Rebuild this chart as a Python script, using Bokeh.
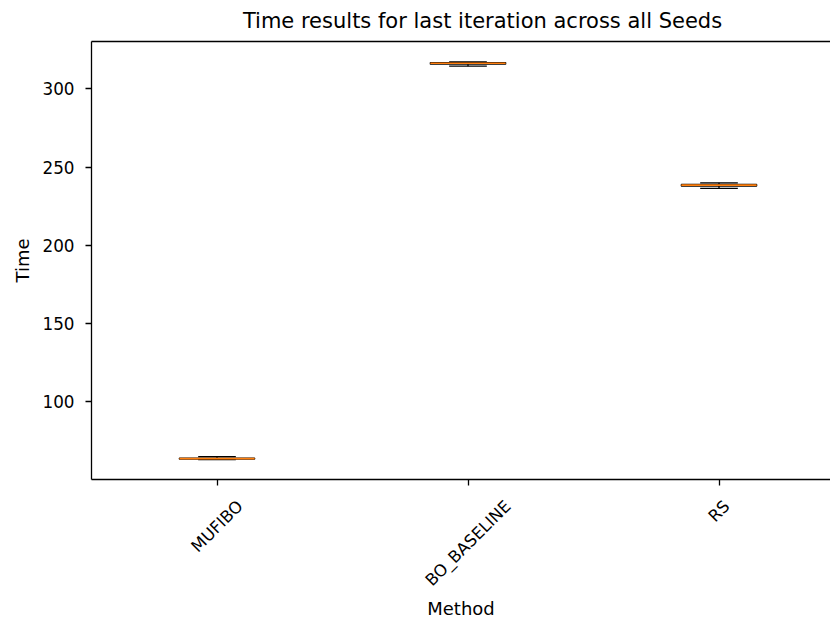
import math
from bokeh.plotting import figure
from bokeh.models import Range1d, FixedTicker, LinearAxis, Label, CustomJSTickFormatter
from bokeh.embed import file_html
from bokeh.resources import INLINE

# ---- data ----
methods = ["MUFIBO", "BO_BASELINE", "RS"]
whisker_low = [63.0, 314.5, 236.4]
q1 = [63.3, 315.8, 237.9]
median = [63.5, 316.4, 238.4]
q3 = [63.8, 316.8, 238.9]
whisker_high = [64.8, 317.2, 239.9]
y_ticks = [100, 150, 200, 250, 300]

title_text = "Time results for last iteration across all Seeds"
x_label = "Method"
y_label = "Time"

# ---- layout ----
FONT = "DejaVu Sans"
W, H = 830, 621
FR_L, FR_T, FR_R, FR_B = 91, 41, 830, 479   # frame edges in figure px
X0, X1 = 0.5, 0.5 + (FR_R - FR_L) / 251.0
Y0, Y1 = 50.2, 330.3
PXX = (FR_R - FR_L) / (X1 - X0)
PXY = (FR_B - FR_T) / (Y1 - Y0)

def px_to_x(px):  # figure px -> data x
    return X0 + (px - FR_L) / PXX

def py_to_y(py):  # figure px -> data y
    return Y0 + (FR_B - py) / PXY

pos = [i + 1 for i in range(len(methods))]
box_w = 0.3

p = figure(width=W, height=H, output_backend="svg", toolbar_location=None,
           x_range=Range1d(X0, X1), y_range=Range1d(Y0, Y1),
           min_border_left=FR_L, min_border_right=W - FR_R,
           min_border_top=FR_T, min_border_bottom=H - FR_B)
p.outline_line_color = None
p.xgrid.visible = False
p.ygrid.visible = False
p.background_fill_color = "white"
p.border_fill_color = "white"

# bottom spine + tick marks (labels are drawn by the label axis below)
xa = p.xaxis[0]
xa.ticker = FixedTicker(ticks=pos)
xa.formatter = CustomJSTickFormatter(code="return ''")
xa.major_label_text_font_size = "0px"
xa.major_label_standoff = 0
xa.major_tick_out = 6
xa.major_tick_in = 0
xa.minor_tick_line_color = None
xa.axis_line_color = "black"
xa.axis_line_width = 1.3
xa.major_tick_line_color = "black"
xa.major_tick_line_width = 1.3

# rotated category labels (matplotlib rotation=45, ha=center): the label axis
# anchors the right end of each text, so shift anchors by half the text length
ADV = {"M": .863, "U": .732, "F": .575, "I": .295, "B": .686, "O": .787, "_": .5,
       "A": .684, "S": .635, "E": .632, "L": .557, "N": .748, "R": .695}
fs = 16.5
label_ticks = []
overrides = {}
for x, m in zip(pos, methods):
    w = sum(ADV.get(c, 0.65) for c in m) * fs
    t = x + (w / 2) * math.cos(math.pi / 4) / PXX
    label_ticks.append(t)
    overrides[t] = m

lab_axis = LinearAxis(ticker=FixedTicker(ticks=label_ticks),
                      major_label_overrides=overrides,
                      major_label_orientation=math.pi / 4,
                      major_label_text_font=FONT, major_label_text_font_size="16.5px",
                      major_label_text_color="black", major_label_standoff=18,
                      major_tick_out=0, major_tick_in=0,
                      major_tick_line_color=None, minor_tick_line_color=None,
                      axis_line_color=None,
                      axis_label=x_label, axis_label_text_font=FONT,
                      axis_label_text_font_size="18px",
                      axis_label_text_font_style="normal",
                      axis_label_text_color="black", axis_label_standoff=-2)
p.add_layout(lab_axis, "below")

ya = p.yaxis[0]
ya.ticker = FixedTicker(ticks=y_ticks)
ya.major_label_text_font = FONT
ya.major_label_text_font_size = "16.8px"
ya.major_label_text_color = "black"
ya.major_label_standoff = 11
ya.major_tick_out = 6
ya.major_tick_in = 0
ya.minor_tick_line_color = None
ya.axis_line_color = "black"
ya.axis_line_width = 1.3
ya.major_tick_line_color = "black"
ya.major_tick_line_width = 1.3

top_axis = LinearAxis(ticker=FixedTicker(ticks=[]),
                      formatter=CustomJSTickFormatter(code="return ''"),
                      major_label_text_font_size="0px",
                      axis_line_color="black", axis_line_width=1.3,
                      major_tick_line_color=None, minor_tick_line_color=None)
p.add_layout(top_axis, "above")

# boxes
p.quad(left=[x - box_w / 2 for x in pos], right=[x + box_w / 2 for x in pos],
       bottom=q1, top=q3, fill_color=None, line_color="black", line_width=1.3)
# whiskers
p.segment(x0=pos, y0=q3, x1=pos, y1=whisker_high, line_color="black", line_width=1.3)
p.segment(x0=pos, y0=q1, x1=pos, y1=whisker_low, line_color="black", line_width=1.3)
# caps
cap = box_w / 4
p.segment(x0=[x - cap for x in pos], y0=whisker_high, x1=[x + cap for x in pos],
          y1=whisker_high, line_color="black", line_width=1.3)
p.segment(x0=[x - cap for x in pos], y0=whisker_low, x1=[x + cap for x in pos],
          y1=whisker_low, line_color="black", line_width=1.3)
# medians
p.segment(x0=[x - box_w / 2 for x in pos], y0=median, x1=[x + box_w / 2 for x in pos],
          y1=median, line_color="#ff7f0e", line_width=1.7)

p.add_layout(Label(x=px_to_x(482), y=py_to_y(20), text=title_text, text_align="center",
                   text_baseline="alphabetic", text_font=FONT,
                   text_font_size="21px", text_color="black"), "above")
p.add_layout(Label(x=px_to_x(22), y=py_to_y(260), text=y_label, angle=math.pi / 2,
                   text_align="center", text_baseline="middle", text_font=FONT,
                   text_font_size="18px", text_color="black"), "left")

open("out.html", "w").write(file_html(p, INLINE))
